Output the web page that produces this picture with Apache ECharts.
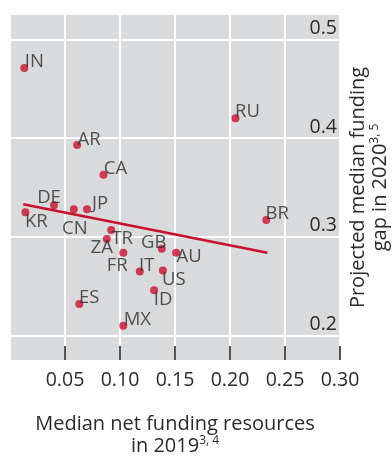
<!DOCTYPE html>
<html>
<head>
<meta charset="utf-8">
<script src="https://cdn.jsdelivr.net/npm/echarts@6/dist/echarts.min.js"></script>
<style>html,body{margin:0;padding:0;background:#fff}#c{width:392px;height:461px}</style>
</head>
<body>
<div id="c"></div>
<script>
// ---- data ----
var countries = ['IN','AR','CA','DE','JP','KR','CN','TR','ZA','FR','GB','AU','IT','US','ID','ES','MX','RU','BR'];
var fundingResources2019 = [0.013,0.061,0.085,0.040,0.070,0.014,0.058,0.092,0.088,0.103,0.138,0.151,0.118,0.139,0.131,0.063,0.103,0.205,0.233];
var fundingGap2020 = [0.471,0.393,0.363,0.332,0.328,0.325,0.328,0.307,0.298,0.284,0.288,0.284,0.265,0.266,0.246,0.232,0.210,0.420,0.317];
var trendX = [0.012, 0.234];
var trendY = [0.333, 0.284];
var xTicks = [0, 0.05, 0.10, 0.15, 0.20, 0.25, 0.30];
var yTicks = [0.2, 0.3, 0.4, 0.5];

// ---- label layout (pixel offsets of each country label from its dot) ----
var labelOffsets = {
  IN:[10,-6], AR:[12,-5], CA:[12,-6], DE:[-5,-8], JP:[13,-6], KR:[11,10], CN:[1,19],
  TR:[11,9], ZA:[-5,9], FR:[-6,13], GB:[-8,-6], AU:[13,4], IT:[7,-6], US:[11,9],
  ID:[9,9], ES:[10,-6], MX:[14,-6], RU:[12,-7], BR:[11,-6]
};

var RED = '#c8102e';
var TXT = '#2b2b2b';
var FONT = 'Open Sans';

var points = countries.map(function (c, i) {
  return {
    name: c,
    value: [fundingResources2019[i], fundingGap2020[i]],
    label: { offset: labelOffsets[c] }
  };
});
var trend = trendX.map(function (x, i) { return [x, trendY[i]]; });

var chart = echarts.init(document.getElementById('c'), null, { renderer: 'canvas' });
chart.setOption({
  animation: false,
  textStyle: { fontFamily: FONT },
  grid: [
    { left: 10, right: 52, top: 15, bottom: 101, show: true, backgroundColor: '#d9dadc', borderWidth: 0, z: -1,
      containLabel: false, outerBoundsMode: 'none' },
    { left: 10, right: 52, top: 39.3, bottom: 125.3, show: false,
      containLabel: false, outerBoundsMode: 'none' }
  ],
  xAxis: [
    {
      gridIndex: 0, type: 'value', min: xTicks[0], max: xTicks[xTicks.length - 1], interval: 0.05,
      axisLine: { show: false },
      axisTick: { show: true, inside: true, length: 14, lineStyle: { color: '#555', width: 2 } },
      splitLine: { show: true, lineStyle: { color: '#ffffff', width: 2 } },
      axisLabel: {
        showMinLabel: false, margin: 10, color: TXT, fontSize: 19.5, fontFamily: FONT,
        formatter: function (v) { return v.toFixed(2); }
      },
      name: '{a|Median net funding resources}\n{a|in 2019}{s|3, 4}',
      nameLocation: 'middle', nameGap: 53,
      nameTextStyle: {
        color: TXT, fontFamily: FONT,
        rich: {
          a: { fontSize: 20, lineHeight: 22, color: TXT, fontFamily: FONT },
          s: { fontSize: 12, lineHeight: 12, verticalAlign: 'top', color: TXT, fontFamily: FONT }
        }
      }
    },
    {
      gridIndex: 1, type: 'value', min: xTicks[0], max: xTicks[xTicks.length - 1], show: false
    }
  ],
  yAxis: [
    { gridIndex: 0, type: 'value', min: 0, max: 1, show: false },
    {
      gridIndex: 1, type: 'value', position: 'right',
      min: yTicks[0], max: yTicks[yTicks.length - 1], interval: 0.1,
      axisLine: { show: false },
      axisTick: { show: false },
      splitLine: { show: true, lineStyle: { color: '#ffffff', width: 2 } },
      axisLabel: {
        inside: true, margin: 3, color: TXT, fontSize: 19.5, fontFamily: FONT,
        verticalAlign: 'bottom', padding: [0, 0, 1, 0],
        formatter: function (v) { return v.toFixed(1); }
      },
      name: '{a|Projected median funding}\n{a|gap in 2020}{s|3, 5}',
      nameLocation: 'middle', nameRotate: 90, nameGap: 4,
      nameTextStyle: {
        color: TXT, fontFamily: FONT,
        rich: {
          a: { fontSize: 20, lineHeight: 22, color: TXT, fontFamily: FONT },
          s: { fontSize: 12, lineHeight: 12, verticalAlign: 'top', color: TXT, fontFamily: FONT }
        }
      }
    }
  ],
  series: [
    {
      type: 'line', xAxisIndex: 1, yAxisIndex: 1, data: trend,
      showSymbol: false, symbol: 'none',
      lineStyle: { color: RED, width: 2.5 }, z: 3, silent: true
    },
    {
      type: 'scatter', xAxisIndex: 1, yAxisIndex: 1, data: points,
      symbolSize: 8, itemStyle: { color: RED }, z: 4,
      label: {
        show: true, position: 'inside', align: 'center', verticalAlign: 'middle',
        formatter: '{b}', color: TXT, fontSize: 18.5, fontFamily: FONT
      }
    }
  ]
});
</script>
</body>
</html>
